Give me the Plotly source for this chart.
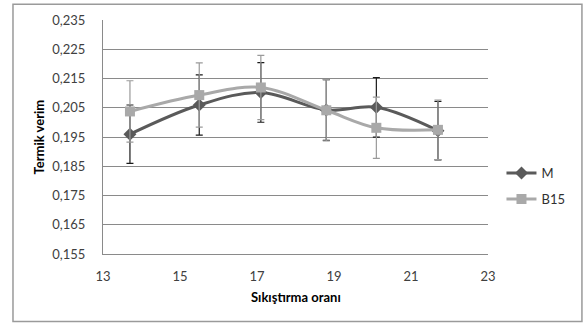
import plotly.graph_objects as go

# Data
x_vals = [13.7, 15.5, 17.1, 18.8, 20.1, 21.7]
m_vals = [0.196, 0.206, 0.2103, 0.2043, 0.2052, 0.1972]
m_err = [0.0100, 0.0103, 0.0102, 0.0104, 0.0102, 0.0100]
b15_vals = [0.2038, 0.2094, 0.2120, 0.2042, 0.1982, 0.1975]
b15_err = [0.0105, 0.0110, 0.0110, 0.0105, 0.0105, 0.0102]
y_ticks = [0.155, 0.165, 0.175, 0.185, 0.195, 0.205, 0.215, 0.225, 0.235]
x_ticks = [13, 15, 17, 19, 21, 23]

FONT = "Lato, 'Open Sans', sans-serif"
GRID = "#8a8a8a"

fig = go.Figure()
fig.add_trace(go.Scatter(
    x=x_vals, y=m_vals, name="M", mode="lines+markers",
    line=dict(color="#5a5a5a", width=3, shape="spline", smoothing=1),
    marker=dict(symbol="diamond", size=10, color="#5a5a5a"),
    error_y=dict(type="data", array=m_err, color="#1a1a1a", thickness=1.2, width=3.5),
    legendgroup="m",
))
fig.add_trace(go.Scatter(
    x=x_vals, y=b15_vals, name="B15", mode="lines+markers",
    line=dict(color="#a9a9a9", width=3, shape="spline", smoothing=1),
    marker=dict(symbol="square", size=10, color="#a9a9a9"),
    error_y=dict(type="data", array=b15_err, color="#9a9a9a", thickness=1.2, width=3.5),
    legendgroup="b",
))

fig.update_layout(
    width=585, height=325,
    margin=dict(l=103, r=97, t=18, b=71),
    paper_bgcolor="white", plot_bgcolor="white",
    separators=",.",
    font=dict(family=FONT, size=13, color="#404040"),
    showlegend=True,
    legend=dict(x=1.035, y=0.41, xanchor="left", yanchor="top",
                font=dict(size=13, color="#303030"),
                tracegroupgap=6, itemwidth=30, bgcolor="rgba(0,0,0,0)"),
    xaxis=dict(range=[13, 23], tickvals=x_ticks, ticktext=[str(v) for v in x_ticks],
               showgrid=False, zeroline=False, showline=True, linecolor=GRID, linewidth=1,
               ticks="", ticklabelstandoff=10),
    yaxis=dict(range=[0.155, 0.2351], tickvals=y_ticks, tickformat=".3f",
               showgrid=True, gridcolor=GRID, gridwidth=1, zeroline=False,
               showline=True, linecolor=GRID, linewidth=1,
               ticks="", ticklabelstandoff=14),
    annotations=[
        dict(text="<b>Termik verim</b>", xref="paper", yref="paper",
             x=-0.165, y=0.5, textangle=-90, showarrow=False,
             font=dict(size=13, color="#000000"), xanchor="center", yanchor="middle"),
        dict(text="<b>Sıkıştırma oranı</b>", xref="paper", yref="paper",
             x=0.5, y=-0.183, showarrow=False,
             font=dict(size=13, color="#000000"), xanchor="center", yanchor="middle"),
    ],
    shapes=[
        dict(type="rect", xref="paper", yref="paper",
             x0=-0.2338, x1=1.244, y0=-0.288, y1=1.0678,
             line=dict(color="#9a9a9a", width=1.5), fillcolor="rgba(0,0,0,0)", layer="below"),
    ],
)

fig.write_html("out.html")
